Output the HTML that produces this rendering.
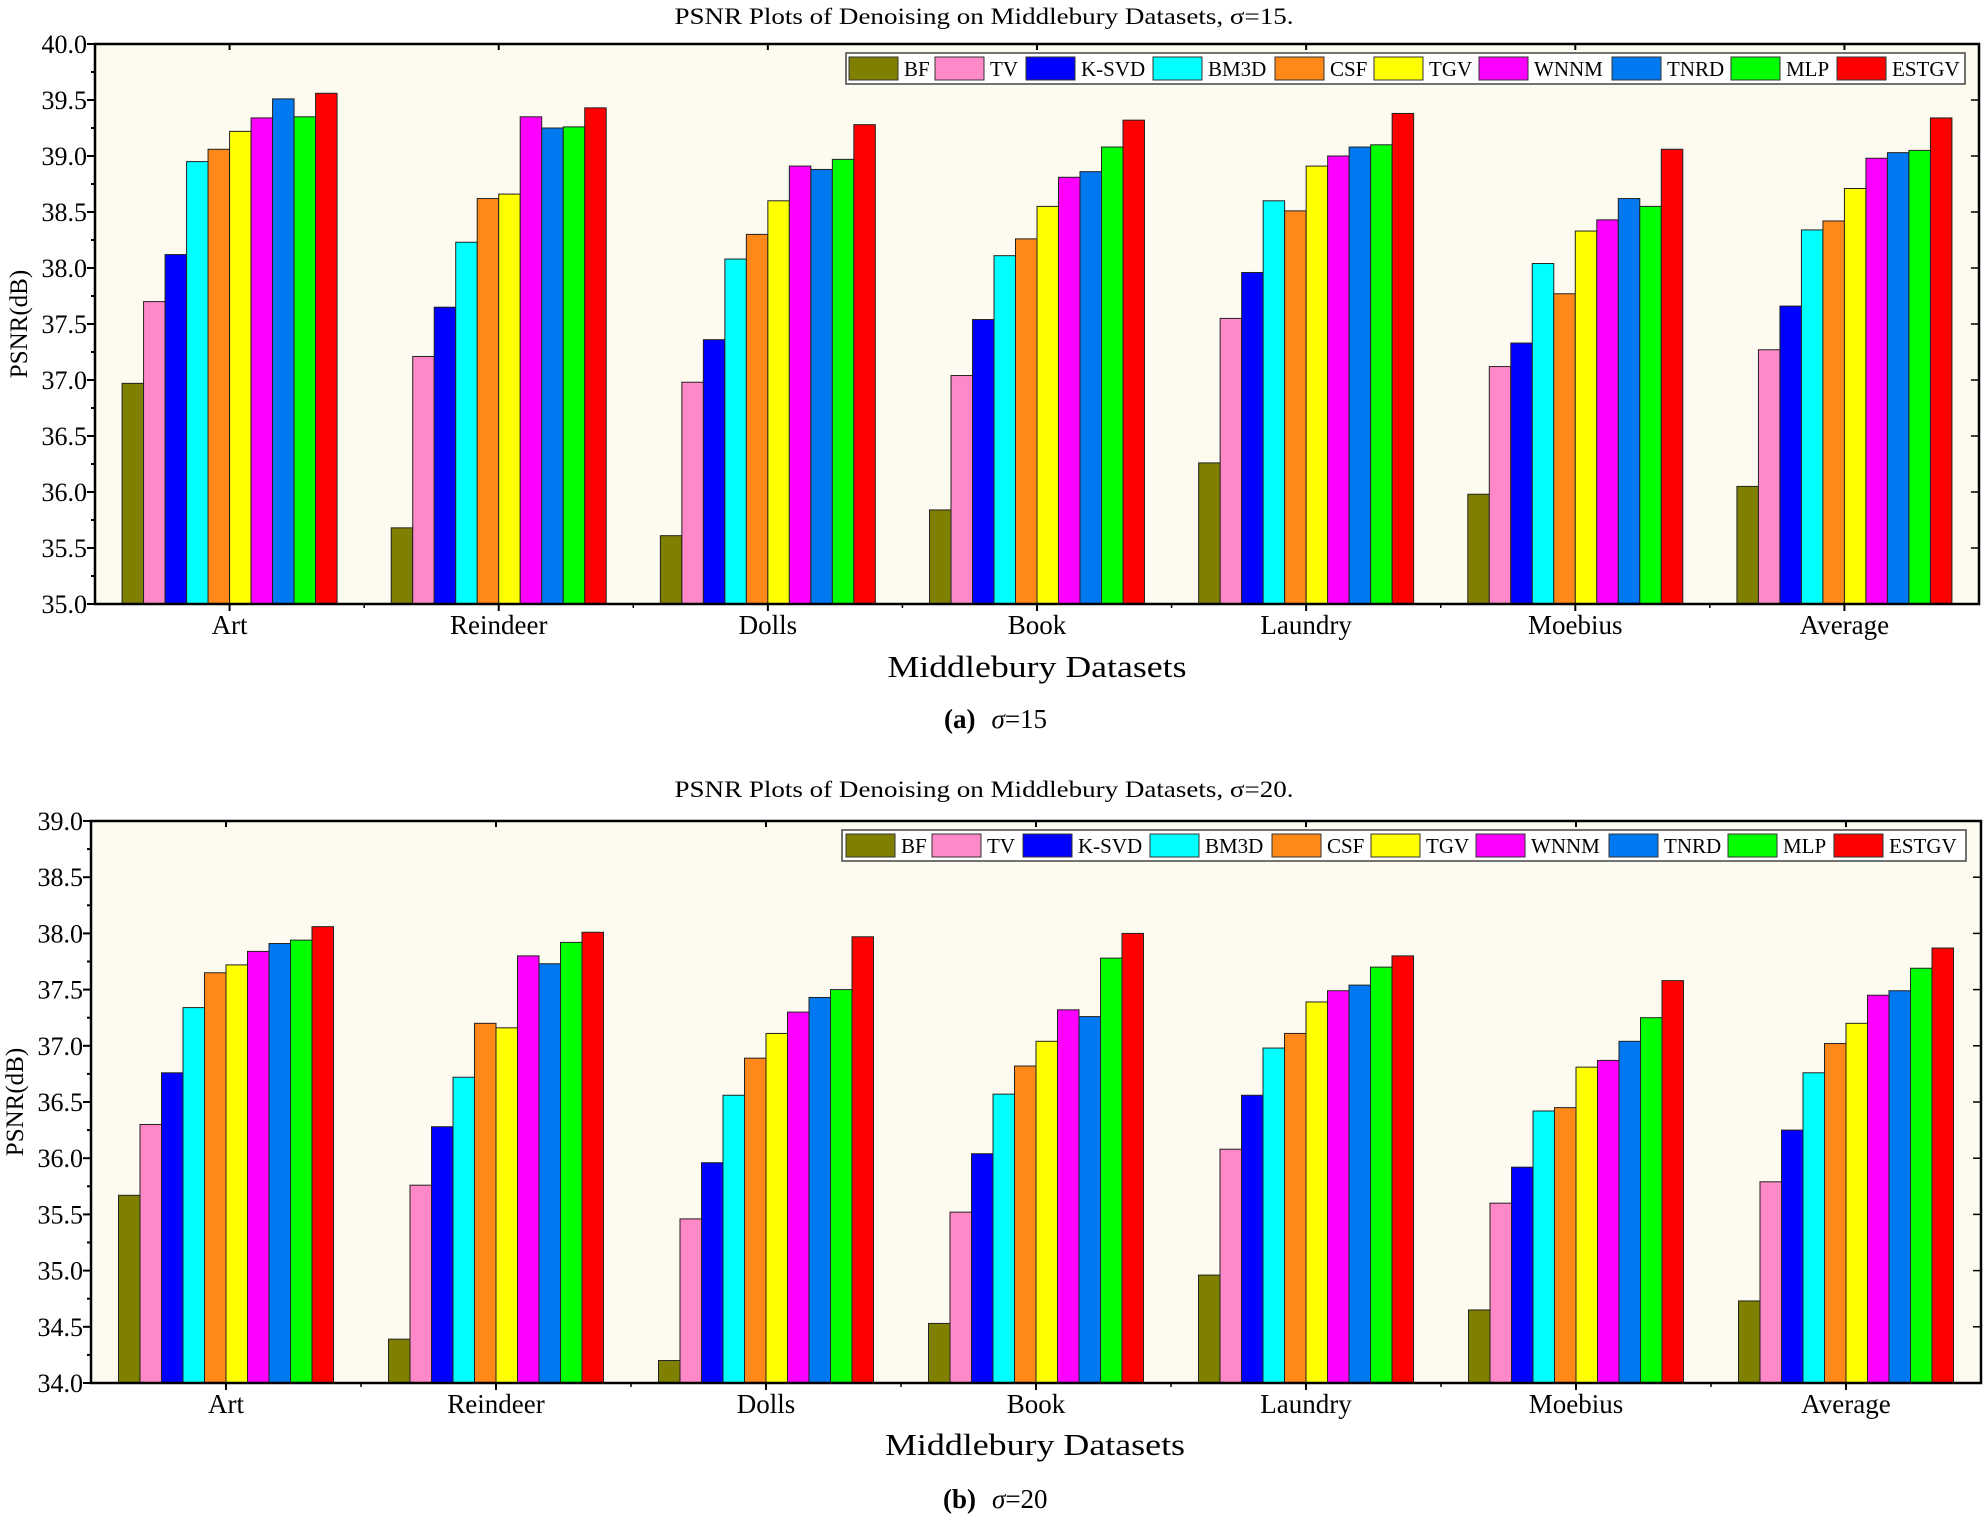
<!DOCTYPE html>
<html><head><meta charset="utf-8"><style>
html,body{margin:0;padding:0;background:#fff;}
svg{display:block;}
svg text{font-family:"Liberation Serif","Times New Roman",Times,serif;}
</style></head><body>
<svg id="s" width="1984" height="1518" viewBox="0 0 1984 1518" xmlns="http://www.w3.org/2000/svg" font-family="Liberation Serif, Times New Roman, serif">
<text x="984" y="24" font-size="23" text-anchor="middle" textLength="619" lengthAdjust="spacingAndGlyphs">PSNR Plots of Denoising on Middlebury Datasets, σ=15.</text>
<text x="984" y="797" font-size="23" text-anchor="middle" textLength="619" lengthAdjust="spacingAndGlyphs">PSNR Plots of Denoising on Middlebury Datasets, σ=20.</text>
<text x="1037" y="677" font-size="31" text-anchor="middle" textLength="299" lengthAdjust="spacingAndGlyphs">Middlebury Datasets</text>
<text x="1035" y="1455" font-size="31" text-anchor="middle" textLength="300" lengthAdjust="spacingAndGlyphs">Middlebury Datasets</text>
<text x="944" y="728" font-size="27"><tspan font-weight="bold">(a)</tspan><tspan dx="16" font-style="italic">σ</tspan>=15</text>
<text x="943" y="1508" font-size="27"><tspan font-weight="bold">(b)</tspan><tspan dx="16" font-style="italic">σ</tspan>=20</text>
<text transform="translate(27,324) rotate(-90)" font-size="25" text-anchor="middle">PSNR(dB)</text>
<text transform="translate(23,1102) rotate(-90)" font-size="25" text-anchor="middle">PSNR(dB)</text>
<g id="g1"></g><g id="g2"></g>
</svg>
<script>
var NS="http://www.w3.org/2000/svg";
function el(p,t,a,txt){var e=document.createElementNS(NS,t);for(var k in a)e.setAttribute(k,a[k]);if(txt!==undefined)e.textContent=txt;p.appendChild(e);return e;}
var cols=["#808000","#ff88c8","#0000ff","#00ffff","#ff8818","#ffff00","#ff00ff","#0078f0","#00ff00","#ff0000"];
var names=["BF","TV","K-SVD","BM3D","CSF","TGV","WNNM","TNRD","MLP","ESTGV"];
var cats=["Art","Reindeer","Dolls","Book","Laundry","Moebius","Average"];
var d1=[[36.97,37.70,38.12,38.95,39.06,39.22,39.34,39.51,39.35,39.56],
[35.68,37.21,37.65,38.23,38.62,38.66,39.35,39.25,39.26,39.43],
[35.61,36.98,37.36,38.08,38.30,38.60,38.91,38.88,38.97,39.28],
[35.84,37.04,37.54,38.11,38.26,38.55,38.81,38.86,39.08,39.32],
[36.26,37.55,37.96,38.60,38.51,38.91,39.00,39.08,39.10,39.38],
[35.98,37.12,37.33,38.04,37.77,38.33,38.43,38.62,38.55,39.06],
[36.05,37.27,37.66,38.34,38.42,38.71,38.98,39.03,39.05,39.34]];
var d2=[[35.67,36.30,36.76,37.34,37.65,37.72,37.84,37.91,37.94,38.06],
[34.39,35.76,36.28,36.72,37.20,37.16,37.80,37.73,37.92,38.01],
[34.20,35.46,35.96,36.56,36.89,37.11,37.30,37.43,37.50,37.97],
[34.53,35.52,36.04,36.57,36.82,37.04,37.32,37.26,37.78,38.00],
[34.96,36.08,36.56,36.98,37.11,37.39,37.49,37.54,37.70,37.80],
[34.65,35.60,35.92,36.42,36.45,36.81,36.87,37.04,37.25,37.58],
[34.73,35.79,36.25,36.76,37.02,37.20,37.45,37.49,37.69,37.87]];
var lgx=[849,935,1026,1153,1275,1374,1479,1612,1731,1837];
function plot(g,L,R,T,B,ymin,data,lgT,lgL,lgR,dx){
 var sp=(R-L)/7, py=(B-T)/5, bw=21.5;
 el(g,"rect",{x:L,y:T,width:R-L,height:B-T,fill:"#fdfbef"});
 for(var c=0;c<7;c++){var cx=L+sp*(c+0.5),x0=cx-bw*5;
  for(var i=0;i<10;i++){var v=data[c][i],y=B-(v-ymin)*py;
   el(g,"rect",{x:x0+i*bw,y:y,width:bw,height:B-y,fill:cols[i],stroke:"#222","stroke-width":1});}
  el(g,"text",{x:cx,y:B+30,"font-size":27,"text-anchor":"middle"},cats[c]);
  el(g,"line",{x1:cx,y1:B,x2:cx,y2:B+7,stroke:"#000","stroke-width":2});
  el(g,"line",{x1:cx,y1:T,x2:cx,y2:T+6,stroke:"#000","stroke-width":2});
  if(c>0){var bx=L+sp*c;el(g,"line",{x1:bx,y1:B,x2:bx,y2:B+4,stroke:"#000","stroke-width":1.5});}
 }
 for(var k=0;k<=20;k++){var y=B-k*py/4;var maj=k%2==0;
  el(g,"line",{x1:L-(maj?8:4),y1:y,x2:L,y2:y,stroke:"#000","stroke-width":2});
  if(maj){el(g,"line",{x1:R-8,y1:y,x2:R,y2:y,stroke:"#000","stroke-width":1.5});
   el(g,"text",{x:L-8,y:y+9,"font-size":26,"text-anchor":"end"},(ymin+k/4).toFixed(1));}
 }
 el(g,"rect",{x:L,y:T,width:R-L,height:B-T,fill:"none",stroke:"#000","stroke-width":2.5});
 el(g,"rect",{x:lgL,y:lgT,width:lgR-lgL,height:31,fill:"#fff",stroke:"#444","stroke-width":1.5});
 for(var i=0;i<10;i++){var sx=lgx[i]+dx;
  el(g,"rect",{x:sx,y:lgT+4,width:49,height:23,fill:cols[i],stroke:"#333","stroke-width":1});
  el(g,"text",{x:sx+55,y:lgT+23,"font-size":21},names[i]);}
}
plot(document.getElementById("g1"),95,1979,44,604,35,d1,53,846,1965,0);
plot(document.getElementById("g2"),91,1981,821,1383,34,d2,830,842,1966,-3);
</script>
</body></html>
